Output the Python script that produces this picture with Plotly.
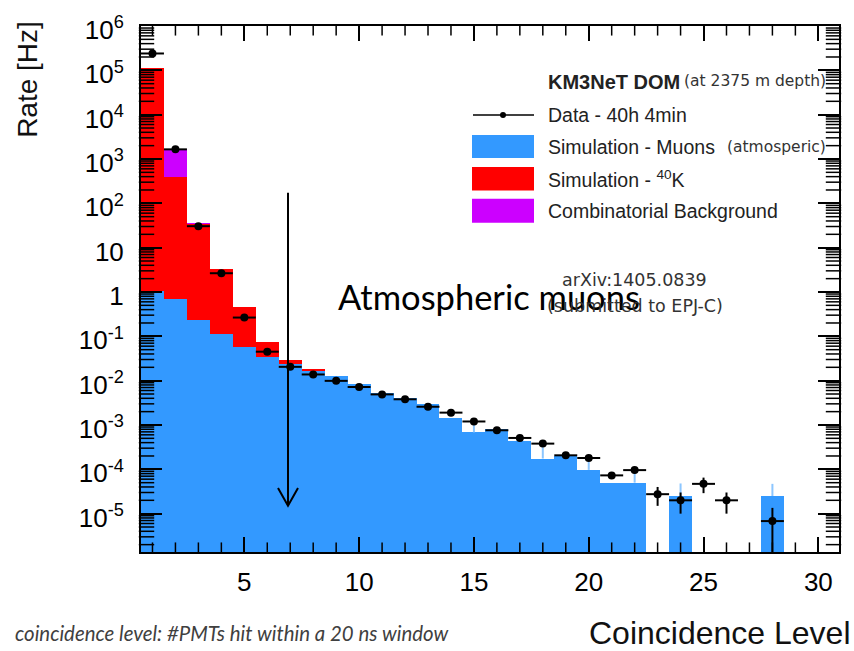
import plotly.graph_objects as go
import numpy as np
import math

# ---------------- data ----------------
bins = list(range(1, 32))

muons = [1.05, 0.70, 0.23, 0.11, 0.057, 0.034, 0.024, 0.0162, 0.0127, 0.0083,
         0.0053, 0.0041, 0.0029, 0.00147, 0.00068, 0.00082, 0.00044, 0.000175,
         0.000197, 0.000097, 0.00005, 0.00005, 0, 0.000025, 0, 0, 0, 0.000025,
         0, 0, 0]
k40 = [1.15e5, 400, 33.2, 3.24, 0.40, 0.042, 0.0045, 0.0018] + [0] * 23
combinatorial = [0, 1270, 3.1] + [0] * 28

muon_err_up = [None] * 14 + [0.0004, None, None, 0.00014, None, 0.00008, None,
                             0.00004, None, 0.000023, None, None, None, 0.000022,
                             None, None, None]

data = [2.4e5, 1.65e3, 30.5, 2.65, 0.265, 0.045, 0.0205, 0.0138, 0.0099, 0.0072,
        0.0049, 0.0038, 0.00258, 0.0019, 0.0012, 0.00076, 0.00051, 0.00038,
        0.000207, 0.00018, 0.000073, 0.000096, 0.0000275, 0.00002, 0.000047,
        0.00002, None, 0.0000068, None, None, None]
data_err = [0] * 18 + [0.00002, 0.00002, 0.000012, 0.000015, 0.0000125, 0.00001,
                       0.000018, 0.00001, 0, 0.0000067, 0, 0, 0]

ytick_vals = [1e-5, 1e-4, 1e-3, 1e-2, 1e-1, 1, 10, 1e2, 1e3, 1e4, 1e5, 1e6]
ytick_text = ["10<sup>-5</sup>", "10<sup>-4</sup>", "10<sup>-3</sup>", "10<sup>-2</sup>",
              "10<sup>-1</sup>", "1", "10", "10<sup>2</sup>", "10<sup>3</sup>",
              "10<sup>4</sup>", "10<sup>5</sup>", "10<sup>6</sup>"]
xtick_vals = [5, 10, 15, 20, 25, 30]

# ---------------- derived stacks ----------------
mu = np.array(muons, dtype=float)
kk = np.array(k40, dtype=float)
cb = np.array(combinatorial, dtype=float)
top_red = mu + kk
top_mag = top_red + cb

def nz(a):
    return [v if v > 0 else None for v in a]

BLUE = "#3399ff"
RED = "#ff0000"
MAG = "#cc00ff"
FONT = "Liberation Sans, Arial, sans-serif"

L, R, T, B = 141, 839, 20.7, 551.7
W, H = 854, 651
pw, ph = R - L, B - T
XRANGE = [0.5, 30.9]
YRANGE = [-5.865, 6.0]
x_per_px = (XRANGE[1] - XRANGE[0]) / pw
ydec_per_px = (YRANGE[1] - YRANGE[0]) / ph

fig = go.Figure()
fig.add_trace(go.Bar(x=bins, y=nz(top_mag), width=1, marker=dict(color=MAG, line=dict(width=0)),
                     showlegend=False, hoverinfo="skip"))
fig.add_trace(go.Bar(x=bins, y=nz(top_red), width=1, marker=dict(color=RED, line=dict(width=0)),
                     showlegend=False, hoverinfo="skip"))
fig.add_trace(go.Bar(x=bins, y=nz(mu), width=1, marker=dict(color=BLUE, line=dict(width=0)),
                     showlegend=False, hoverinfo="skip"))

# ---- minor log ticks on the left and right frame (axis decoration) ----
YMINOR_LEN = 11
minor_vals = []
for d in range(-6, 6):
    for m in range(2, 10):
        if YRANGE[0] < math.log10(m) + d < YRANGE[1]:
            minor_vals.append(m * 10.0 ** d)
half_x = YMINOR_LEN / 2.0 * x_per_px
fig.add_trace(go.Scatter(
    x=[XRANGE[0] + half_x] * len(minor_vals) + [XRANGE[1] - half_x] * len(minor_vals),
    y=minor_vals + minor_vals, mode="markers", cliponaxis=False,
    marker=dict(symbol="line-ew", size=YMINOR_LEN, color="black",
                line=dict(color="black", width=1.5)),
    showlegend=False, hoverinfo="skip"))

# ---- minor x ticks at every integer, bottom and top (axis decoration) ----
XMINOR_LEN = 8
xminor = [v for v in range(1, 31) if v % 5 != 0]
yb = 10 ** (YRANGE[0] + XMINOR_LEN / 2.0 * ydec_per_px)
yt = 10 ** (YRANGE[1] - XMINOR_LEN / 2.0 * ydec_per_px)
fig.add_trace(go.Scatter(
    x=xminor + xminor, y=[yb] * len(xminor) + [yt] * len(xminor), mode="markers",
    cliponaxis=False,
    marker=dict(symbol="line-ns", size=XMINOR_LEN, color="black",
                line=dict(color="black", width=1.5)),
    showlegend=False, hoverinfo="skip"))

# simulation uncertainty (light blue)
sx = [b for b, e in zip(bins, muon_err_up) if e is not None]
sy = [m for m, e in zip(muons, muon_err_up) if e is not None]
se = [e for e in muon_err_up if e is not None]
fig.add_trace(go.Scatter(x=sx, y=sy, mode="markers", marker=dict(size=0.1, color="rgba(0,0,0,0)"),
                         error_y=dict(type="data", array=se, arrayminus=[0] * len(se),
                                      color="#8cc6ff", thickness=2, width=0),
                         showlegend=False, hoverinfo="skip"))

# data points
dx = [b for b, d in zip(bins, data) if d is not None]
dy = [d for d in data if d is not None]
de = [e for d, e in zip(data, data_err) if d is not None]
fig.add_trace(go.Scatter(x=dx, y=dy, mode="markers",
                         marker=dict(color="black", size=8, symbol="circle"),
                         error_x=dict(type="constant", value=0.5, color="black", thickness=2, width=0),
                         error_y=dict(type="data", array=de, color="black", thickness=2, width=0),
                         showlegend=False, hoverinfo="skip"))

# ---------------- layout ----------------
def px(x):
    return (x - L) / pw

def py(y):
    return (B - y) / ph

fig.update_layout(
    width=W, height=H,
    margin=dict(l=L, r=W - R, t=T, b=H - B, pad=0),
    paper_bgcolor="white", plot_bgcolor="white",
    barmode="overlay", bargap=0,
    font=dict(family=FONT, color="black"),
    showlegend=False,
)
fig.update_xaxes(
    range=XRANGE, showgrid=False, zeroline=False,
    showline=True, linecolor="black", linewidth=2, mirror="ticks",
    ticks="inside", ticklen=15, tickwidth=1.5, tickcolor="black",
    tickmode="array", tickvals=xtick_vals, ticktext=[str(v) for v in xtick_vals],
    tickfont=dict(size=26, family=FONT), ticklabelstandoff=6,
)
fig.update_yaxes(
    type="log", range=YRANGE, showgrid=False, zeroline=False,
    showline=True, linecolor="black", linewidth=2, mirror="ticks",
    ticks="inside", ticklen=21, tickwidth=1.5, tickcolor="black",
    tickmode="array", tickvals=ytick_vals, ticktext=ytick_text,
    tickfont=dict(size=26, family=FONT), ticklabelstandoff=10, ticklabelshift=4,
)

ann = []
ann.append(dict(text="Rate [Hz]", textangle=-90, xref="paper", yref="paper",
                x=px(28), y=py(14), xanchor="center", yanchor="top", showarrow=False,
                font=dict(size=28, family=FONT, color="#111")))
ann.append(dict(text="Coincidence Level", xref="paper", yref="paper",
                x=px(853), y=py(633), xanchor="right", yanchor="middle", showarrow=False,
                font=dict(size=32, family=FONT, color="#111")))
ann.append(dict(text="<i>coincidence level: #PMTs hit within a 20 ns window</i>",
                xref="paper", yref="paper", x=px(13), y=py(633), xanchor="left",
                yanchor="middle", showarrow=False,
                font=dict(size=20.4, family="Lato, Open Sans, sans-serif", color="#404040")))
ann.append(dict(text="Atmospheric muons", xref="paper", yref="paper",
                x=px(336), y=py(294), xanchor="left", yanchor="middle", showarrow=False,
                font=dict(size=34.5, family="Lato, Open Sans, sans-serif", color="black")))
ann.append(dict(text="arXiv:1405.0839", xref="paper", yref="paper",
                x=px(634), y=py(277), xanchor="center", yanchor="middle", showarrow=False,
                font=dict(size=17.5, family="DejaVu Sans, sans-serif", color="#333")))
ann.append(dict(text="(submitted to EPJ-C)", xref="paper", yref="paper",
                x=px(635), y=py(303), xanchor="center", yanchor="middle", showarrow=False,
                font=dict(size=17.5, family="DejaVu Sans, sans-serif", color="#333")))

# legend block
ann.append(dict(text="<b>KM3NeT DOM</b>", xref="paper", yref="paper",
                x=px(546), y=py(77), xanchor="left", yanchor="middle", showarrow=False,
                font=dict(size=20, family=FONT, color="#222")))
ann.append(dict(text="(at 2375 m depth)", xref="paper", yref="paper",
                x=px(682), y=py(76), xanchor="left", yanchor="middle", showarrow=False,
                font=dict(size=15.5, family="DejaVu Sans, sans-serif", color="#333")))
rows = [("Data - 40h 4min", 111), ("Simulation - Muons", 143),
        ("Simulation - <sup>40</sup>K", 175), ("Combinatorial Background", 207.5)]
for txt, yy in rows:
    ann.append(dict(text=txt, xref="paper", yref="paper", x=px(546), y=py(yy),
                    xanchor="left", yanchor="middle", showarrow=False,
                    font=dict(size=19.5, family=FONT, color="#222")))
ann.append(dict(text="(atmosperic)", xref="paper", yref="paper",
                x=px(725), y=py(143), xanchor="left", yanchor="middle", showarrow=False,
                font=dict(size=15.5, family="DejaVu Sans, sans-serif", color="#333")))

shapes = []
# legend swatches
for color, y0, y1 in [(BLUE, 130.7, 154), (RED, 163, 186.7), (MAG, 195, 219.3)]:
    shapes.append(dict(type="rect", xref="paper", yref="paper", x0=px(472), x1=px(534),
                       y0=py(y1), y1=py(y0), fillcolor=color, line=dict(width=0), layer="above"))
shapes.append(dict(type="line", xref="paper", yref="paper", x0=px(473), x1=px(534),
                   y0=py(110.5), y1=py(110.5), line=dict(color="black", width=1.5)))
shapes.append(dict(type="circle", xref="paper", yref="paper", xsizemode="pixel",
                   ysizemode="pixel", xanchor=px(503), yanchor=py(110.5),
                   x0=-3, x1=3, y0=-3, y1=3, fillcolor="black", line=dict(width=0)))
# arrow
shapes.append(dict(type="line", xref="paper", yref="paper", x0=px(288), x1=px(288),
                   y0=py(189), y1=py(505), line=dict(color="black", width=2), layer="above"))
shapes.append(dict(type="path", xref="paper", yref="paper",
                   path="M {:.5f} {:.5f} L {:.5f} {:.5f} L {:.5f} {:.5f}".format(
                       px(278), py(487), px(288), py(505), px(298), py(487)),
                   line=dict(color="black", width=2), layer="above"))

fig.update_layout(annotations=ann, shapes=shapes)
fig.write_html("out.html")
